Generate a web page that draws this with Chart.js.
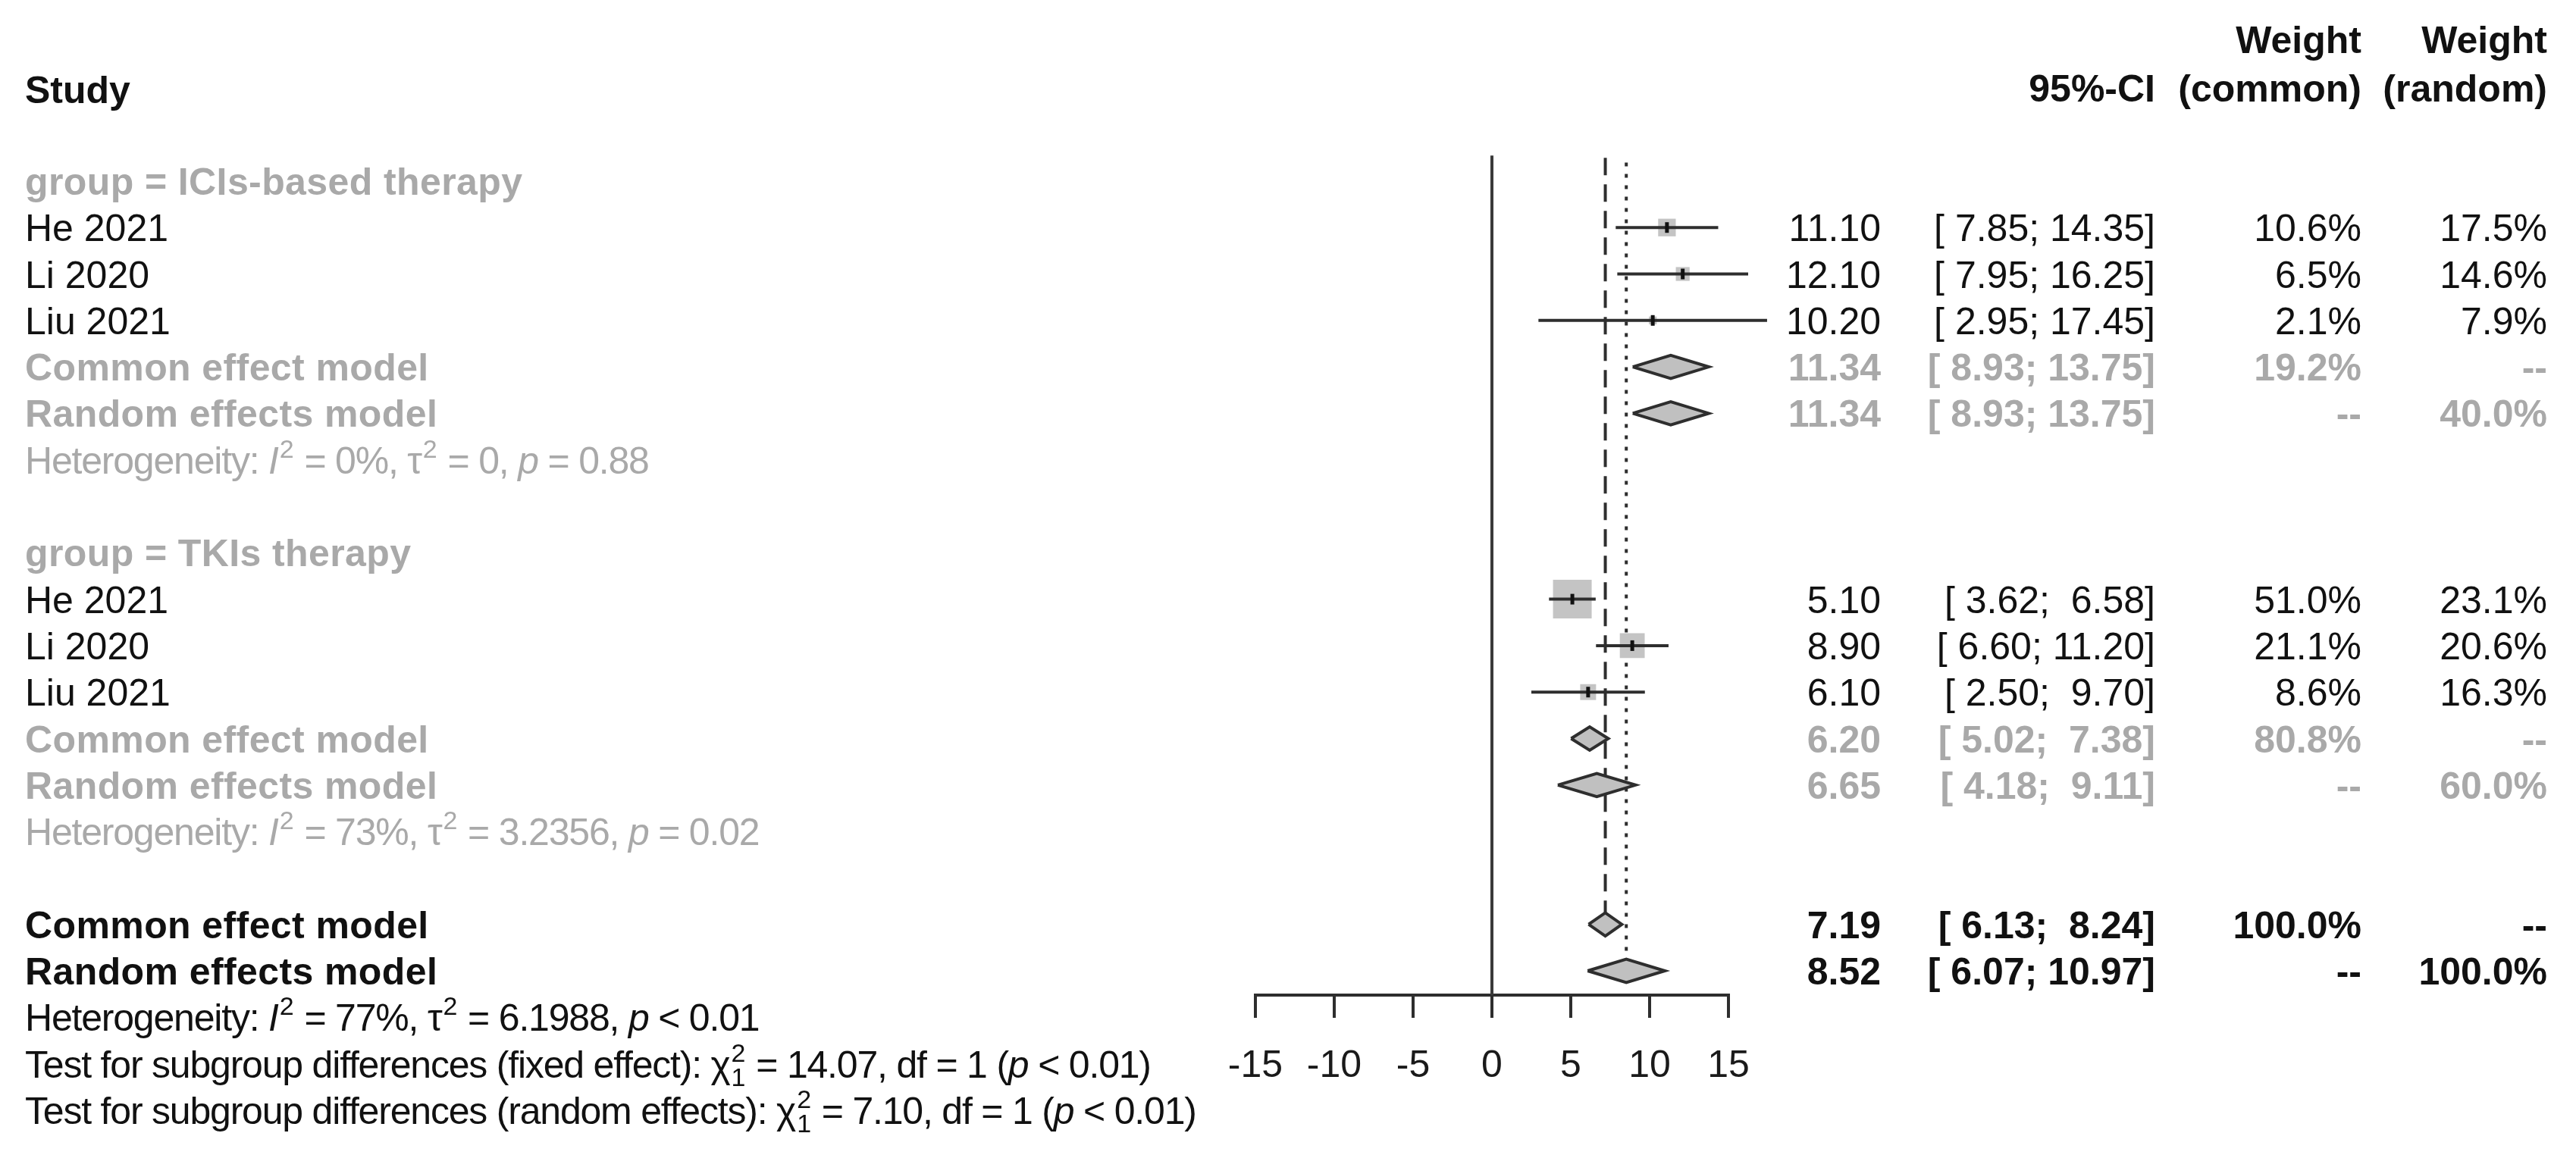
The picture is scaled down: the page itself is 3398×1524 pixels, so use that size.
<!DOCTYPE html>
<html>
<head>
<meta charset="utf-8">
<title>Forest plot</title>
<script src="https://cdn.jsdelivr.net/npm/chart.js@4.4.0/dist/chart.umd.min.js"></script>
<style>
  html, body { margin: 0; padding: 0; background: #fff; }
  #forest { display: block; }
</style>
</head>
<body>
<canvas id="forest" width="3398" height="1524"></canvas>
<script>
// ---- data ----
const studyNames = ['He 2021', 'Li 2020', 'Liu 2021'];
const groupNames = ['ICIs-based therapy', 'TKIs therapy'];

const iciTE = [11.10, 12.10, 10.20];
const iciLower = [7.85, 7.95, 2.95];
const iciUpper = [14.35, 16.25, 17.45];
const iciWeightCommon = [10.6, 6.5, 2.1];
const iciWeightRandom = [17.5, 14.6, 7.9];

const tkiTE = [5.10, 8.90, 6.10];
const tkiLower = [3.62, 6.60, 2.50];
const tkiUpper = [6.58, 11.20, 9.70];
const tkiWeightCommon = [51.0, 21.1, 8.6];
const tkiWeightRandom = [23.1, 20.6, 16.3];

// pooled estimates: [estimate, lower, upper]
const iciCommon = [11.34, 8.93, 13.75];
const iciRandom = [11.34, 8.93, 13.75];
const tkiCommon = [6.20, 5.02, 7.38];
const tkiRandom = [6.65, 4.18, 9.11];
const allCommon = [7.19, 6.13, 8.24];
const allRandom = [8.52, 6.07, 10.97];

// pooled weights per block: ICI, TKI, overall
const pooledWeightCommon = [19.2, 80.8, 100.0];
const pooledWeightRandom = [40.0, 60.0, 100.0];

// heterogeneity per block: ICI, TKI, overall
const hetI2 = ['0%', '73%', '77%'];
const hetTau2 = ['0', '3.2356', '6.1988'];
const hetP = ['= 0.88', '= 0.02', '< 0.01'];

// subgroup difference tests
const testNames = ['fixed effect', 'random effects'];
const testChi2 = ['14.07', '7.10'];
const testDf = [1, 1];
const testP = ['< 0.01', '< 0.01'];

const xTicks = [-15, -10, -5, 0, 5, 10, 15];

// ---- layout ----
const FONT = '"Liberation Sans", Arial, Helvetica, sans-serif';
const FS = 50;
const ROW0 = 55, ROWH = 61.3;     // pixel of row 0 and row pitch
const AXIS_Y = 1313;
const PLOT_L = 1656, PLOT_R = 2280;
const TEXT_X = 33, COL_EST = 2481, COL_CI = 2843, COL_WC = 3115, COL_WR = 3360;
const BLACK = '#111', GRAY = '#a9a9a9', LINE = '#2e2e2e';
const LW = 4;
const DIAMOND_H = 0.25;
const MAX_SQ = 51;                 // side in px of the heaviest study

const fmt = v => v.toFixed(2);
const pad = s => (' '.repeat(5) + s).slice(-5);
const ciText = (lo, hi) => '[' + pad(fmt(lo)) + '; ' + pad(fmt(hi)) + ']';
const pct = w => w.toFixed(1) + '%';

// build the rows
const rows = [];
const squares = [];
const diamonds = [];
const maxW = Math.max(...iciWeightCommon, ...tkiWeightCommon);

function addBlock(k0, gi, te, lo, hi, wc, wr, comm, rand) {
  rows.push({ k: k0, type: 'group', text: 'group = ' + groupNames[gi] });
  te.forEach((v, i) => {
    const k = k0 + 1 + i;
    rows.push({ k, type: 'study', text: studyNames[i], est: fmt(v), ci: ciText(lo[i], hi[i]),
      wc: pct(wc[i]), wr: pct(wr[i]) });
    squares.push({ k, te: v, lo: lo[i], hi: hi[i], w: wc[i] });
  });
  const kc = k0 + 4, kr = k0 + 5;
  rows.push({ k: kc, type: 'sub', text: 'Common effect model', est: fmt(comm[0]), ci: ciText(comm[1], comm[2]),
    wc: pct(pooledWeightCommon[gi]), wr: '--' });
  rows.push({ k: kr, type: 'sub', text: 'Random effects model', est: fmt(rand[0]), ci: ciText(rand[1], rand[2]),
    wc: '--', wr: pct(pooledWeightRandom[gi]) });
  rows.push({ k: k0 + 6, type: 'het', block: gi });
  diamonds.push({ k: kc, v: comm }, { k: kr, v: rand });
}
addBlock(3, 0, iciTE, iciLower, iciUpper, iciWeightCommon, iciWeightRandom, iciCommon, iciRandom);
addBlock(11, 1, tkiTE, tkiLower, tkiUpper, tkiWeightCommon, tkiWeightRandom, tkiCommon, tkiRandom);
rows.push({ k: 19, type: 'all', text: 'Common effect model', est: fmt(allCommon[0]), ci: ciText(allCommon[1], allCommon[2]),
  wc: pct(pooledWeightCommon[2]), wr: '--' });
rows.push({ k: 20, type: 'all', text: 'Random effects model', est: fmt(allRandom[0]), ci: ciText(allRandom[1], allRandom[2]),
  wc: '--', wr: pct(pooledWeightRandom[2]) });
rows.push({ k: 21, type: 'het', block: 2 });
rows.push({ k: 22, type: 'test', t: 0 });
rows.push({ k: 23, type: 'test', t: 1 });
diamonds.push({ k: 19, v: allCommon }, { k: 20, v: allRandom });

// ---- datasets ----
const datasets = [];

// reference lines: 0, common and random overall effect
const refLines = [
  { x: 0, from: 2.45, to: (AXIS_Y - ROW0) / ROWH, dash: [], color: '#3a3a3a' },
  { x: allCommon[0], from: 2.5, to: 18.75, dash: [23, 12], color: LINE },
  { x: allRandom[0], from: 2.6, to: 20 - DIAMOND_H, dash: [5, 10], color: LINE }
];
refLines.forEach(r => datasets.push({
  data: [{ x: r.x, y: r.from }, { x: r.x, y: r.to }],
  showLine: true, borderColor: r.color, borderWidth: LW, borderDash: r.dash,
  pointRadius: 0, clip: false, order: 9
}));

// study squares
datasets.push({
  data: squares.map(s => ({ x: s.te, y: s.k })),
  pointStyle: 'rect',
  pointRadius: squares.map(s => MAX_SQ * Math.sqrt(s.w / maxW) / Math.SQRT2),
  backgroundColor: '#c4c4c4', borderWidth: 0, order: 6
});

// confidence intervals
squares.forEach(s => datasets.push({
  data: [{ x: s.lo, y: s.k }, { x: s.hi, y: s.k }],
  showLine: true, borderColor: LINE, borderWidth: LW, pointRadius: 0, clip: false, order: 4
}));

// point estimate marks
datasets.push({
  data: squares.map(s => ({ x: s.te, y: s.k })),
  pointStyle: 'line', rotation: 90, pointRadius: 7,
  borderColor: '#111', borderWidth: 5, order: 2
});

// pooled diamonds
diamonds.forEach(d => {
  const [e, lo, hi] = d.v;
  datasets.push({
    data: [{ x: lo, y: d.k }, { x: e, y: d.k - DIAMOND_H }, { x: hi, y: d.k },
           { x: e, y: d.k + DIAMOND_H }, { x: lo, y: d.k }],
    showLine: true, fill: 'shape', backgroundColor: '#c0c0c0',
    borderColor: LINE, borderWidth: LW, pointRadius: 0, tension: 0, clip: false, order: 5
  });
});

// ---- text ----
function font(weight, style) {
  return (style || '') + ' ' + (weight || 'normal') + ' ' + FS + 'px ' + FONT;
}

function rich(ctx, parts, x, y) {
  let cx = x;
  ctx.textAlign = 'left';
  for (const p of parts) {
    const [t, st, sub] = p;
    if (st === 'sup') {
      ctx.letterSpacing = '0px';
      ctx.font = 'normal 34px ' + FONT;
      ctx.fillText(t, cx + 2, y - 21);
      let w = ctx.measureText(t).width;
      if (sub) {
        ctx.fillText(sub, cx + 2, y + 11);
        w = Math.max(w, ctx.measureText(sub).width);
      }
      cx += w + 3;
    } else {
      ctx.letterSpacing = '-1.2px';
      ctx.font = font('normal', st === 'i' ? 'italic' : '');
      ctx.fillText(t, cx, y);
      cx += ctx.measureText(t).width;
    }
  }
  ctx.letterSpacing = '0px';
}

function hetParts(b) {
  return [['Heterogeneity: '], ['I', 'i'], ['2', 'sup'], [' = ' + hetI2[b] + ', '],
    ['\u03c4'], ['2', 'sup'], [' = ' + hetTau2[b] + ', '], ['p', 'i'], [' ' + hetP[b]]];
}

function testParts(t) {
  return [['Test for subgroup differences (' + testNames[t] + '): '], ['\u03c7'], ['2', 'sup', String(testDf[t])],
    [' = ' + testChi2[t] + ', df = ' + testDf[t] + ' ('], ['p', 'i'], [' ' + testP[t] + ')']];
}

const forestText = {
  id: 'forestText',
  afterDraw(chart) {
    const ctx = chart.ctx;
    const ys = chart.scales.y;
    const base = k => ys.getPixelForValue(k) + 18;
    ctx.save();
    ctx.textBaseline = 'alphabetic';

    const put = (txt, x, y, align, weight, color, spacing) => {
      ctx.letterSpacing = spacing || '0px';
      ctx.font = font(weight);
      ctx.fillStyle = color;
      ctx.textAlign = align;
      ctx.fillText(txt, x, y);
      ctx.letterSpacing = '0px';
    };

    // header
    put('Weight', COL_WC, base(-0.05), 'right', 'bold', BLACK);
    put('Weight', COL_WR, base(-0.05), 'right', 'bold', BLACK);
    put('Study', TEXT_X, base(1.03), 'left', 'bold', BLACK);
    put('95%-CI', COL_CI, base(1), 'right', 'bold', BLACK);
    put('(common)', COL_WC, base(1), 'right', 'bold', BLACK);
    put('(random)', COL_WR, base(1), 'right', 'bold', BLACK);

    rows.forEach(r => {
      const y = base(r.k);
      if (r.type === 'group') {
        put(r.text, TEXT_X, y, 'left', 'bold', GRAY, '0.4px');
      } else if (r.type === 'het') {
        ctx.fillStyle = r.block === 2 ? BLACK : GRAY;
        rich(ctx, hetParts(r.block), TEXT_X, y);
      } else if (r.type === 'test') {
        ctx.fillStyle = BLACK;
        rich(ctx, testParts(r.t), TEXT_X, y);
      } else {
        const weight = r.type === 'study' ? 'normal' : 'bold';
        const color = r.type === 'sub' ? GRAY : BLACK;
        put(r.text, TEXT_X, y, 'left', weight, color, weight === 'bold' ? '0.4px' : '0px');
        put(r.est, COL_EST, y, 'right', weight, color);
        put(r.ci, COL_CI, y, 'right', weight, color);
        put(r.wc, COL_WC, y, 'right', weight, color);
        put(r.wr, COL_WR, y, 'right', weight, color);
      }
    });
    ctx.restore();
  }
};

new Chart(document.getElementById('forest'), {
  type: 'scatter',
  data: { datasets },
  options: {
    responsive: false,
    animation: false,
    events: [],
    devicePixelRatio: 1,
    layout: { autoPadding: false, padding: { left: PLOT_L, right: 3398 - PLOT_R, top: 0, bottom: 53 } },
    plugins: { legend: { display: false }, tooltip: { enabled: false } },
    scales: {
      x: {
        type: 'linear', position: 'bottom', min: xTicks[0], max: xTicks[xTicks.length - 1],
        afterBuildTicks: s => { s.ticks = xTicks.map(v => ({ value: v })); },
        ticks: { font: { family: FONT, size: FS }, color: '#1a1a1a', padding: 34, maxRotation: 0, autoSkip: false },
        grid: { drawOnChartArea: false, drawTicks: true, tickLength: 30, color: LINE, lineWidth: LW },
        border: { display: true, color: LINE, width: LW }
      },
      y: {
        type: 'linear', display: false, reverse: true,
        min: -ROW0 / ROWH, max: (AXIS_Y - ROW0) / ROWH
      }
    }
  },
  plugins: [forestText]
});
</script>
</body>
</html>
